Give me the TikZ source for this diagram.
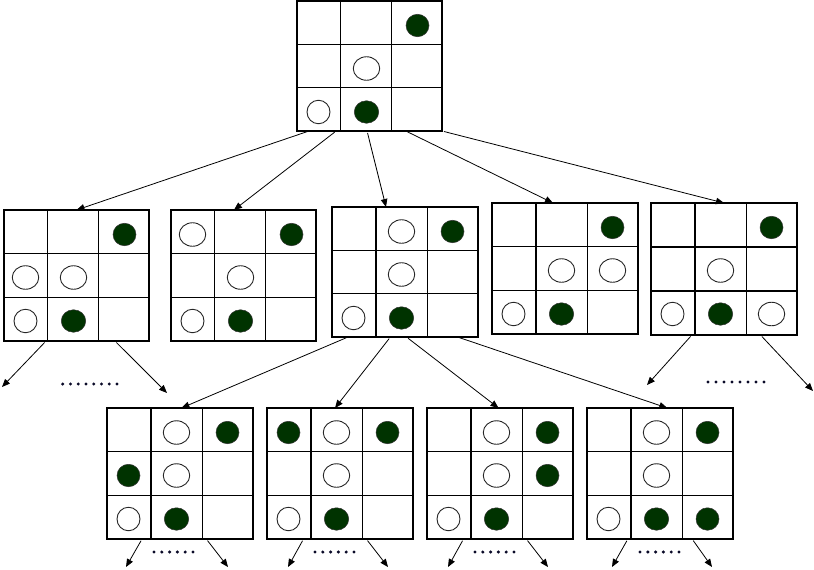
\documentclass[tikz,border=0pt]{standalone}
\usetikzlibrary{calc,arrows.meta,shapes.geometric}
\definecolor{piecegreen}{RGB}{0,51,0}
\definecolor{dotcol}{RGB}{10,10,40}
\tikzset{
  boardbox/.style={draw=black, line width=1.2pt, rectangle, inner sep=0pt, outer sep=0pt},
  gridline/.style={draw=black, line width=1.2pt},
  wc/.style={draw=black!85, line width=0.9pt, ellipse, inner sep=0pt, minimum width=23pt, minimum height=23.5pt},
  we/.style={draw=black!85, line width=0.9pt, ellipse, inner sep=0pt, minimum width=26.5pt, minimum height=23.5pt},
  bc/.style={fill=piecegreen, draw=black!80, line width=0.5pt, ellipse, inner sep=0pt, minimum width=23pt, minimum height=22.5pt},
  be/.style={fill=piecegreen, draw=black!80, line width=0.5pt, ellipse, inner sep=0pt, minimum width=24.5pt, minimum height=22.5pt},
  conn/.style={draw=black, line width=0.8pt, -{Triangle[length=8pt,width=6.5pt]}, shorten <=2pt},
  dotmark/.style={fill=dotcol}
}
\newcommand\mkboard[5]{%
  \node[boardbox, minimum width=#4pt, minimum height=#5pt, anchor=north west] (#1) at (#2,#3) {};
  \draw[gridline] ($(#1.north west)!0.301!(#1.north east)$) -- ($(#1.south west)!0.301!(#1.south east)$);
  \draw[gridline] ($(#1.north west)!0.653!(#1.north east)$) -- ($(#1.south west)!0.653!(#1.south east)$);
  \draw[gridline] ($(#1.north west)!0.3333!(#1.south west)$) -- ($(#1.north east)!0.3333!(#1.south east)$);
  \draw[gridline] ($(#1.north west)!0.6667!(#1.south west)$) -- ($(#1.north east)!0.6667!(#1.south east)$);
}
\newcommand\pc[4]{%
  \pgfmathsetmacro\pcxval{{21.5,69.5,120.5}[#3]}%
  \pgfmathsetmacro\pcyval{{24.5,67.5,111}[#2]}%
  \node[#4] (#1p#2#3) at ($(#1.north west)+(\pcxval,\pcyval)$) {};%
}
\newcommand\dotrow[4]{%
  \foreach \i in {1,...,#3} \fill[dotmark] ({#1+(\i-1)*#4},#2) circle (1.7pt);%
}
\begin{document}
\begin{tikzpicture}[x=1pt,y=-1pt]
\useasboundingbox (0,0) rectangle (814,570);
% boards
\mkboard{root}{297}{1}{145}{130}
\mkboard{A}{4}{210}{145}{131}
\mkboard{B}{171}{210}{145}{131}
\mkboard{C}{332}{207}{146}{130}
\mkboard{D}{492}{203}{146}{131}
\mkboard{E}{651}{203}{146}{132}
\mkboard{F}{107}{408}{146}{131}
\mkboard{G}{267}{408}{146}{131}
\mkboard{H}{427}{408}{146}{131}
\mkboard{I}{587}{408}{146}{131}
% pieces
\pc{root}{0}{2}{bc}\pc{root}{1}{1}{we}\pc{root}{2}{0}{wc}\pc{root}{2}{1}{be}
\pc{A}{0}{2}{bc}\pc{A}{1}{0}{we}\pc{A}{1}{1}{we}\pc{A}{2}{0}{wc}\pc{A}{2}{1}{be}
\pc{B}{0}{0}{we}\pc{B}{0}{2}{bc}\pc{B}{1}{1}{we}\pc{B}{2}{0}{wc}\pc{B}{2}{1}{be}
\pc{C}{0}{1}{we}\pc{C}{0}{2}{bc}\pc{C}{1}{1}{we}\pc{C}{2}{0}{wc}\pc{C}{2}{1}{be}
\pc{D}{0}{2}{bc}\pc{D}{1}{1}{we}\pc{D}{1}{2}{we}\pc{D}{2}{0}{wc}\pc{D}{2}{1}{be}
\pc{E}{0}{2}{bc}\pc{E}{1}{1}{we}\pc{E}{2}{0}{wc}\pc{E}{2}{1}{be}\pc{E}{2}{2}{we}
\pc{F}{0}{1}{we}\pc{F}{0}{2}{bc}\pc{F}{1}{0}{bc}\pc{F}{1}{1}{we}\pc{F}{2}{0}{wc}\pc{F}{2}{1}{be}
\pc{G}{0}{0}{bc}\pc{G}{0}{1}{we}\pc{G}{0}{2}{bc}\pc{G}{1}{1}{we}\pc{G}{2}{0}{wc}\pc{G}{2}{1}{be}
\pc{H}{0}{1}{we}\pc{H}{0}{2}{bc}\pc{H}{1}{1}{we}\pc{H}{1}{2}{bc}\pc{H}{2}{0}{wc}\pc{H}{2}{1}{be}
\pc{I}{0}{1}{we}\pc{I}{0}{2}{bc}\pc{I}{1}{1}{we}\pc{I}{2}{0}{wc}\pc{I}{2}{1}{be}\pc{I}{2}{2}{bc}
% root to level 2
\draw[conn] ($(root.south west)!0.083!(root.south east)$) -- ($(A.north west)!0.5!(A.north east)$);
\draw[conn] ($(root.south west)!0.27!(root.south east)$) -- ($(B.north west)!0.434!(B.north east)$);
\draw[conn] ($(root.south west)!0.483!(root.south east)$) -- ($(C.north west)!0.37!(C.north east)$);
\draw[conn] ($(root.south west)!0.75!(root.south east)$) -- ($(D.north west)!0.418!(D.north east)$);
\draw[conn] (root.south east) -- ($(E.north west)!0.5!(E.north east)$);
% C to level 3
\draw[conn] ($(C.south west)!0.11!(C.south east)$) -- ($(F.north west)!0.51!(F.north east)$);
\draw[conn] ($(C.south west)!0.40!(C.south east)$) -- ($(G.north west)!0.466!(G.north east)$);
\draw[conn] ($(C.south west)!0.51!(C.south east)$) -- ($(H.north west)!0.49!(H.north east)$);
\draw[conn] ($(C.south west)!0.86!(C.south east)$) -- ($(I.north west)!0.55!(I.north east)$);
% free ends
\coordinate (A1) at (2,387);   \coordinate (A2) at (167,393);
\coordinate (E1) at (647,385); \coordinate (E2) at (813,391);
\coordinate (F1) at (126,567); \coordinate (F2) at (228,567);
\coordinate (G1) at (288,567); \coordinate (G2) at (388,567);
\coordinate (H1) at (448,567); \coordinate (H2) at (548,567);
\coordinate (I1) at (612,567); \coordinate (I2) at (712,567);
\draw[conn] ($(A.south west)!0.29!(A.south east)$) -- (A1);
\draw[conn] ($(A.south west)!0.765!(A.south east)$) -- (A2);
\draw[conn] ($(E.south west)!0.28!(E.south east)$) -- (E1);
\draw[conn] ($(E.south west)!0.75!(E.south east)$) -- (E2);
\draw[conn] ($(F.south west)!0.24!(F.south east)$) -- (F1);
\draw[conn] ($(F.south west)!0.68!(F.south east)$) -- (F2);
\draw[conn] ($(G.south west)!0.25!(G.south east)$) -- (G1);
\draw[conn] ($(G.south west)!0.68!(G.south east)$) -- (G2);
\draw[conn] ($(H.south west)!0.25!(H.south east)$) -- (H1);
\draw[conn] ($(H.south west)!0.68!(H.south east)$) -- (H2);
\draw[conn] ($(I.south west)!0.28!(I.south east)$) -- (I1);
\draw[conn] ($(I.south west)!0.72!(I.south east)$) -- (I2);
% dotted ellipses
\dotrow{62.7}{384}{8}{7.76}
\dotrow{708}{382}{8}{8}
\dotrow{154}{552}{6}{7.8}
\dotrow{315}{552}{6}{7.8}
\dotrow{475}{552}{6}{7.8}
\dotrow{640}{552}{6}{7.8}
\end{tikzpicture}
\end{document}
